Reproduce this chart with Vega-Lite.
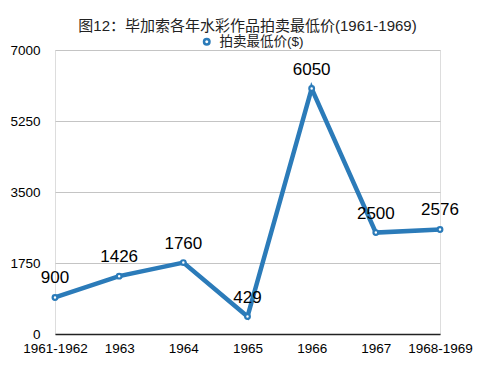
{
  "$schema": "https://vega.github.io/schema/vega-lite/v6.json",
  "width": 385,
  "height": 284,
  "autosize": "none",
  "padding": {"left": 55, "top": 50, "right": 50, "bottom": 33},
  "background": "white",
  "title": {
    "text": "图12：毕加索各年水彩作品拍卖最低价(1961-1969)",
    "anchor": "middle",
    "fontSize": 15,
    "fontWeight": "normal",
    "font": "Liberation Sans, Noto Sans CJK SC",
    "color": "#222222",
    "offset": 4,
    "dy": 3
  },
  "data": {
    "values": [
      {"year": "1961-1962", "price": 900, "series": "拍卖最低价($)"},
      {"year": "1963", "price": 1426, "series": "拍卖最低价($)"},
      {"year": "1964", "price": 1760, "series": "拍卖最低价($)"},
      {"year": "1965", "price": 429, "series": "拍卖最低价($)"},
      {"year": "1966", "price": 6050, "series": "拍卖最低价($)"},
      {"year": "1967", "price": 2500, "series": "拍卖最低价($)"},
      {"year": "1968-1969", "price": 2576, "series": "拍卖最低价($)"}
    ]
  },
  "encoding": {
    "x": {
      "field": "year",
      "type": "ordinal",
      "sort": null,
      "scale": {"type": "point", "padding": 0},
      "axis": {
        "title": null,
        "labelAngle": 0,
        "labelFontSize": 13.5,
        "labelFont": "Liberation Sans",
        "labelColor": "#000000",
        "labelPadding": 7,
        "ticks": false,
        "domainColor": "#222222",
        "domainWidth": 1.5,
        "grid": false
      }
    },
    "y": {
      "field": "price",
      "type": "quantitative",
      "scale": {"domain": [0, 7000], "nice": false},
      "axis": {
        "title": null,
        "values": [0, 1750, 3500, 5250, 7000],
        "format": "d",
        "labelFontSize": 13.5,
        "labelFont": "Liberation Sans",
        "labelColor": "#000000",
        "labelPadding": 15,
        "ticks": false,
        "domain": false,
        "gridColor": "#c4c4c4",
        "gridWidth": 1.2
      }
    }
  },
  "layer": [
    {
      "mark": {
        "type": "line",
        "strokeWidth": 4.5,
        "point": {"filled": false, "fill": "white", "size": 22, "strokeWidth": 2.2}
      },
      "encoding": {
        "color": {
          "field": "series",
          "type": "nominal",
          "scale": {"range": ["#2b7bb9"]},
          "legend": {
            "title": null,
            "orient": "none",
            "legendX": 145,
            "legendY": -15,
            "padding": 0,
            "symbolType": "circle",
            "symbolFillColor": "white",
            "symbolStrokeWidth": 2.5,
            "symbolSize": 30,
            "labelFontSize": 13.5,
            "labelFont": "Liberation Sans, Noto Sans CJK SC",
            "labelColor": "#222222",
            "labelOffset": 6
          }
        }
      }
    },
    {
      "mark": {
        "type": "text",
        "fontSize": 17,
        "font": "Liberation Sans",
        "color": "#000000",
        "baseline": "bottom",
        "dy": -10
      },
      "encoding": {
        "text": {"field": "price", "type": "quantitative"}
      }
    }
  ]
}
